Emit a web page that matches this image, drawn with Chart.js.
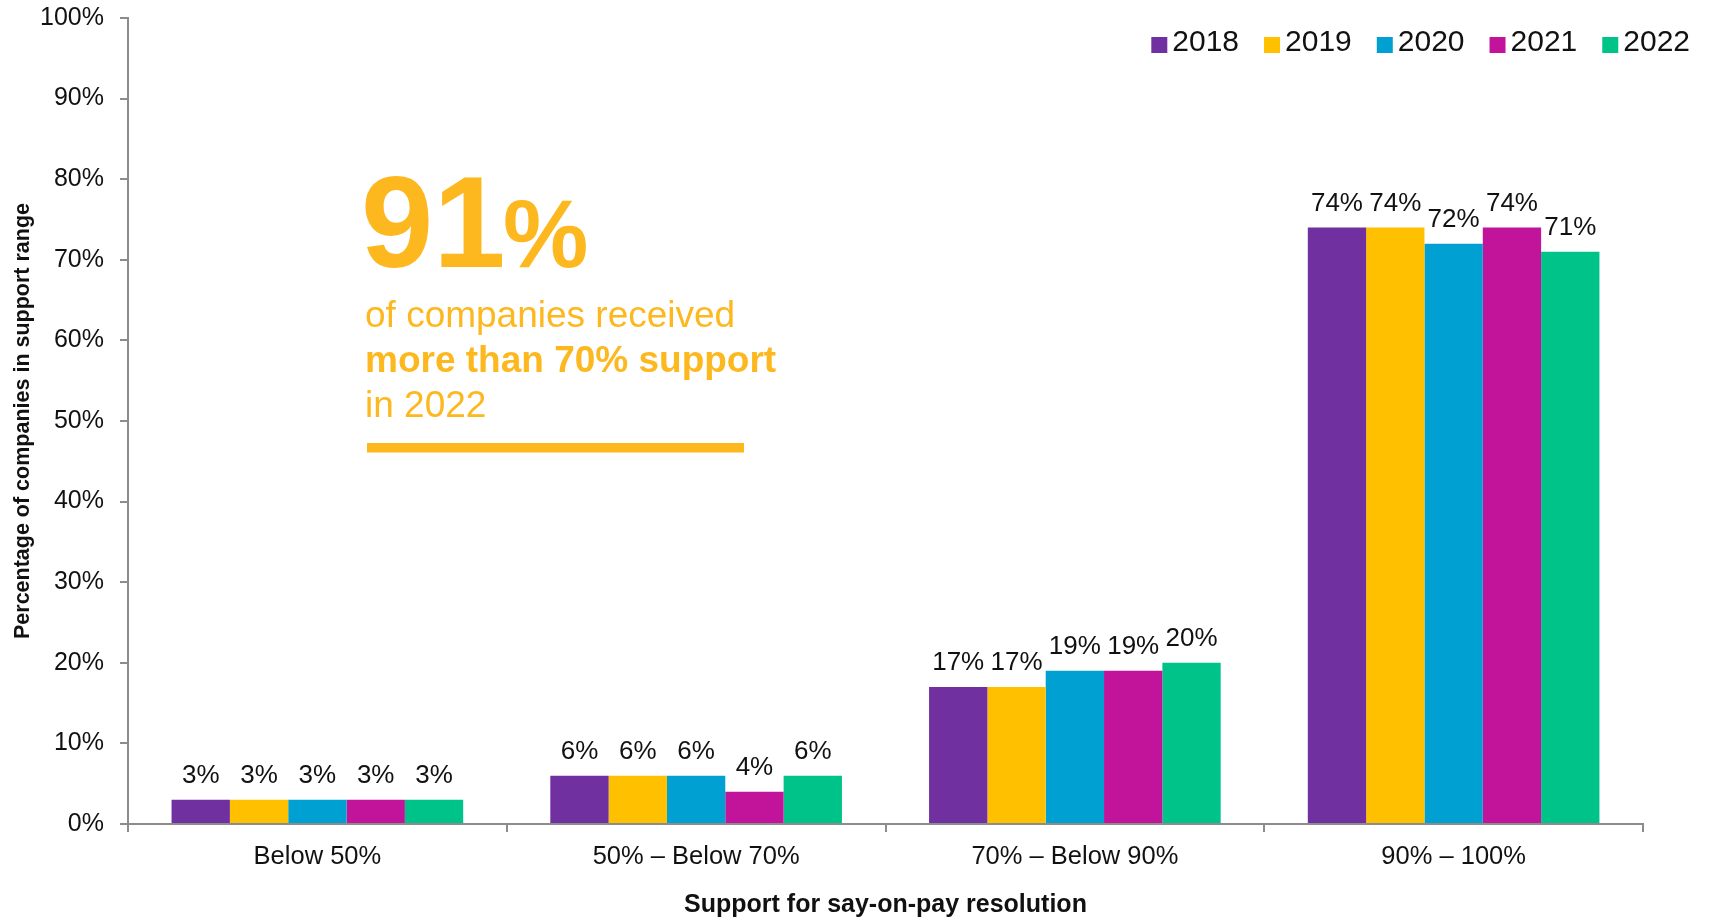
<!DOCTYPE html>
<html>
<head>
<meta charset="utf-8">
<title>Say-on-pay support</title>
<script src="https://cdn.jsdelivr.net/npm/chart.js@4.4.1/dist/chart.umd.min.js"></script>
<style>
    html, body { margin: 0; padding: 0; background: #fff; }
    #wrap { width: 1710px; height: 919px; position: relative; }
</style>
</head>
<body>
<div id="wrap"><canvas id="sayOnPayChart"></canvas></div>
<script>
const categories = ['Below 50%', '50% \u2013 Below 70%', '70% \u2013 Below 90%', '90% \u2013 100%'];
const years = ['2018', '2019', '2020', '2021', '2022'];
const share2018 = [3, 6, 17, 74];
const share2019 = [3, 6, 17, 74];
const share2020 = [3, 6, 19, 72];
const share2021 = [3, 4, 19, 74];
const share2022 = [3, 6, 20, 71];
const yTicks = [0, 10, 20, 30, 40, 50, 60, 70, 80, 90, 100];

const yearColors = ['#7030A0', '#FFC000', '#00A0D2', '#C2139B', '#00C389'];
const FONT = "'Liberation Sans', Arial, sans-serif";
const AXIS_GREY = '#8c8c8c';
const HIGHLIGHT = '#FCB81E';

// value labels above every bar
const barLabels = {
    id: 'barLabels',
    afterDatasetsDraw(chart) {
        const ctx = chart.ctx;
        ctx.save();
        ctx.font = '26px ' + FONT;
        ctx.fillStyle = '#111';
        ctx.textAlign = 'center';
        ctx.textBaseline = 'alphabetic';
        chart.data.datasets.forEach((ds, i) => {
            chart.getDatasetMeta(i).data.forEach((bar, j) => {
                ctx.fillText(ds.data[j] + '%', bar.x, bar.y - 17);
            });
        });
        ctx.restore();
    }
};

// legend in the top right corner, drawn over the plot
const cornerLegend = {
    id: 'cornerLegend',
    afterDraw(chart) {
        const ctx = chart.ctx;
        ctx.save();
        ctx.font = '30px ' + FONT;
        ctx.textBaseline = 'middle';
        ctx.textAlign = 'left';
        const box = 16, gap = 5, itemGap = 25;
        const items = chart.data.datasets.map(ds => ({
            label: ds.label,
            color: ds.backgroundColor,
            w: box + gap + ctx.measureText(ds.label).width
        }));
        const total = items.reduce((a, it) => a + it.w, 0) + itemGap * (items.length - 1);
        let x = 1690 - total;
        items.forEach(it => {
            ctx.fillStyle = it.color;
            ctx.fillRect(x, 37, box, box);
            ctx.fillStyle = '#111';
            ctx.fillText(it.label, x + box + gap, 43);
            x += it.w + itemGap;
        });
        ctx.restore();
    }
};

// "91%" callout on the left of the plot
const callout = {
    id: 'callout',
    afterDraw(chart) {
        const ctx = chart.ctx;
        ctx.save();
        ctx.fillStyle = HIGHLIGHT;
        ctx.textAlign = 'left';
        ctx.textBaseline = 'alphabetic';
        ctx.font = 'bold 130px ' + FONT;
        ctx.fillText('91', 361, 267);
        ctx.font = 'bold 96px ' + FONT;
        ctx.fillText('%', 503, 267);
        ctx.font = '37px ' + FONT;
        ctx.fillText('of companies received', 365, 327);
        ctx.font = 'bold 37px ' + FONT;
        ctx.fillText('more than 70% support', 365, 372);
        ctx.font = '37px ' + FONT;
        ctx.fillText('in 2022', 365, 417);
        ctx.fillRect(367, 443, 377, 9.5);
        ctx.restore();
    }
};

const seriesValues = [share2018, share2019, share2020, share2021, share2022];

new Chart(document.getElementById('sayOnPayChart'), {
    type: 'bar',
    data: {
        labels: categories,
        datasets: years.map((year, i) => ({
            label: year,
            data: seriesValues[i],
            backgroundColor: yearColors[i],
            borderWidth: 0,
            categoryPercentage: 0.77,
            barPercentage: 1.0
        }))
    },
    options: {
        responsive: true,
        maintainAspectRatio: false,
        animation: false,
        layout: { padding: { left: 0, right: 67, top: 18, bottom: 0 } },
        plugins: {
            legend: { display: false },
            tooltip: { enabled: false }
        },
        scales: {
            x: {
                grid: {
                    display: true,
                    offset: true,
                    drawOnChartArea: false,
                    drawTicks: true,
                    tickLength: 8,
                    color: AXIS_GREY,
                    lineWidth: 2
                },
                border: { display: true, color: AXIS_GREY, width: 2 },
                ticks: {
                    color: '#111',
                    padding: 10,
                    maxRotation: 0,
                    font: { family: FONT, size: 25.5 }
                },
                title: {
                    display: true,
                    text: 'Support for say-on-pay resolution',
                    color: '#111',
                    padding: { top: 0, bottom: -1 },
                    font: { family: FONT, size: 25, weight: 'bold' }
                },
                afterFit(scale) { scale.height = 95; }
            },
            y: {
                min: 0,
                max: 100,
                afterBuildTicks(scale) { scale.ticks = yTicks.map(v => ({ value: v })); },
                grid: {
                    display: true,
                    drawOnChartArea: false,
                    drawTicks: true,
                    tickLength: 8,
                    color: AXIS_GREY,
                    lineWidth: 2
                },
                border: { display: true, color: AXIS_GREY, width: 2 },
                ticks: {
                    color: '#111',
                    padding: 16,
                    font: { family: FONT, size: 25 },
                    callback: v => v + '%'
                },
                title: {
                    display: true,
                    text: 'Percentage of companies in support range',
                    color: '#111',
                    padding: { top: 10, bottom: 0 },
                    font: { family: FONT, size: 21.5, weight: 'bold' }
                },
                afterFit(scale) {
                    scale.width = 128;
                    // keep the plot top pinned to the layout padding
                    scale.paddingTop = 0;
                    scale.paddingBottom = 0;
                }
            }
        }
    },
    plugins: [barLabels, cornerLegend, callout]
});
</script>
</body>
</html>
